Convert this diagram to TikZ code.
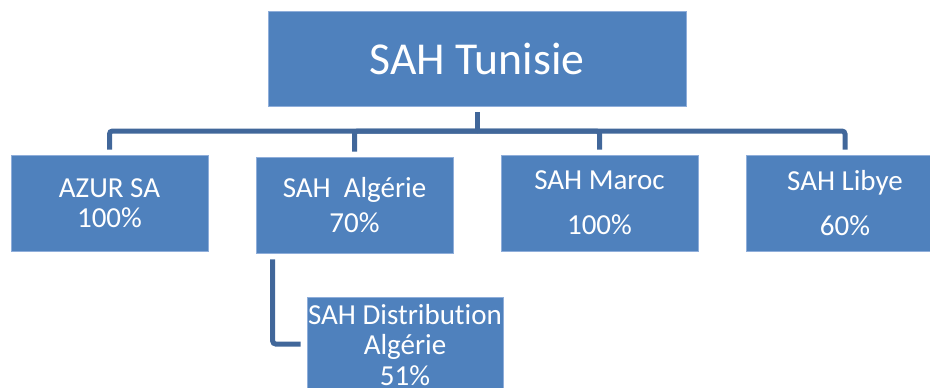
\documentclass[tikz,border=0pt]{standalone}
\usepackage{fontspec}
\setmainfont{Carlito}[Ligatures=NoCommon]

\definecolor{boxblue}{HTML}{4F81BD}
\definecolor{boxedge}{HTML}{8FAEDA}
\definecolor{linkblue}{HTML}{41679A}

\begin{document}
\begin{tikzpicture}[x=0.02cm, y=-0.02cm,
    box/.style={rectangle, fill=boxblue, draw=boxedge, line width=0.4pt,
        text=white, align=center, inner sep=0pt,
        minimum width=3.94cm, minimum height=1.92cm,
        font=\fontsize{16.5}{17}\selectfont},
    link/.style={draw=linkblue, line width=0.1cm, rounded corners=0.06cm}]

        % Fix the page
        \useasboundingbox (0,0) rectangle (930,387);
        \clip (0,0) rectangle (930,387);

        % Top box
        \node[box, minimum width=8.36cm, minimum height=1.9cm,
            font=\fontsize{26}{30}\selectfont] (tunisie) at (477,58.5) {SAH Tunisie};

        % Subsidiaries
        \node[box] (azur) at (109.5,203) {AZUR SA\\100\%};
        \node[box, font=\fontsize{16.5}{19.8}\selectfont] (algerie) at (354.5,205) {SAH~~Algérie\\70\%};
        \node[box, font=\fontsize{16.5}{25.5}\selectfont] (maroc) at (599.5,203) {SAH Maroc\\100\%};
        \node[box, font=\fontsize{16.5}{25.5}\selectfont] (libye) at (845,203) {SAH Libye\\60\%};

        % Second level
        \node[box, minimum width=3.92cm, font=\fontsize{16.5}{17.6}\selectfont] (distrib) at (405,345)
            {SAH Distribution\\Algérie\\51\%};

        % Draw the tree
        \coordinate (bus) at (477,131);
        \draw[link, shorten <=0.12cm] (tunisie.south) -- (bus);
        \foreach \n in {azur, algerie, maroc, libye}
            \draw[link, shorten >=0.1cm] (bus) -| (\n.north);

        % Link to the distribution box
        \draw[link, shorten <=0.12cm, shorten >=0.12cm]
            ([xshift=0.34cm]algerie.south west) |- ([yshift=0.02cm]distrib.west);
    \end{tikzpicture}
\end{document}
